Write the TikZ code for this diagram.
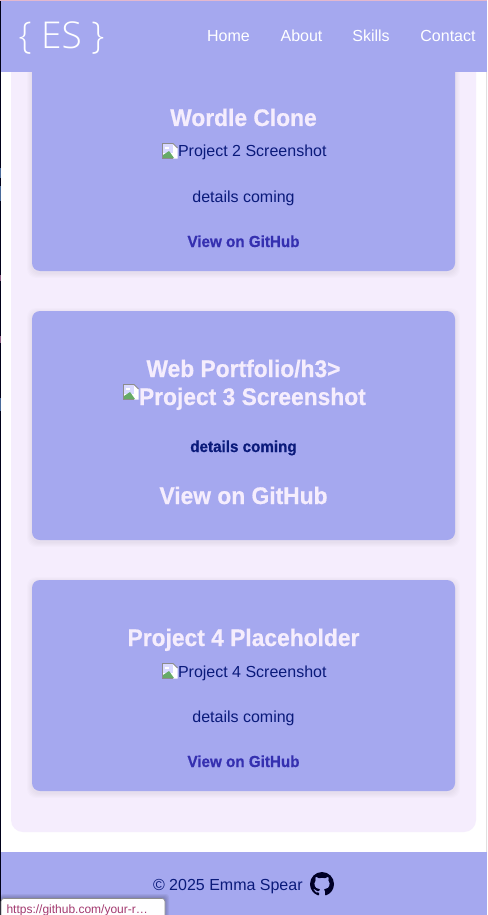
\documentclass[tikz,border=0pt]{standalone}
\usepackage{fontspec}
\setmainfont[BoldFeatures={FakeStretch=0.95,FakeBold=0.6}]{Liberation Sans}
\newfontfamily\lightfont{Open Sans Light}
\usetikzlibrary{svg.path}
\definecolor{periw}{HTML}{A5A8EF}
\definecolor{lav}{HTML}{F5EDFD}
\definecolor{navy}{HTML}{0A1A7A}
\definecolor{linkc}{HTML}{3530B0}
\definecolor{tipc}{HTML}{A3396F}
\definecolor{edgeblue}{HTML}{4A6A9A}
\definecolor{edgepink}{HTML}{8A5A80}
\tikzset{
  x=1pt,y=-1pt,
  every node/.style={inner sep=0pt,outer sep=0pt,anchor=base},
  card/.style={fill=periw,rounded corners=8pt},
  cardshadow/.style={fill=black,fill opacity=.01,rounded corners=9pt},
  navlink/.style={text=white,font=\fontsize{16}{16}\selectfont},
  title/.style={text=lav,font=\fontsize{24}{24}\selectfont\bfseries},
  alt/.style={text=navy,font=\fontsize{16}{16}\selectfont},
  linktxt/.style={text=linkc,font=\fontsize{16}{16}\selectfont\bfseries},
}
\newcommand{\softshadow}[4]{%
  \foreach \d in {1,2,3,4,5}{\fill[cardshadow] (#1-\d,#2-\d+2) rectangle (#3+\d,#4+\d+2);}}
\newcommand{\brokenicon}[2]{%
  \begin{scope}[shift={(#1,#2)}]
    \fill[white] (.5,.5) -- (11,.5) -- (15.5,5) -- (15.5,15.5) -- (.5,15.5) -- cycle;
    \fill[blue!15!white] (1,1) rectangle (11,10);
    \fill[green!45!black!60] (1,15) -- (1,12) -- (7,8) -- (12,15) -- cycle;
    \fill[white] (3,4) rectangle (7,5.5);
    \draw[black!45,line width=.8pt] (11,15.5) -- (.5,15.5) -- (.5,.5) -- (11,.5) -- (15.5,5);
  \end{scope}}
\begin{document}
\begin{tikzpicture}
\useasboundingbox (0,0) rectangle (487,915);
\fill[white] (0,0) rectangle (487,915);
% window edges
\fill[black!90!blue] (0,0) rectangle (1,915);
\fill[edgeblue] (0,168) rectangle (1,178);
\fill[edgeblue] (0,186) rectangle (1,201);
\fill[edgepink] (0,275) rectangle (1,281);
\fill[edgepink] (0,336) rectangle (1,343);
\fill[edgeblue] (0,398) rectangle (1,411);
\fill[black!12] (486,72) rectangle (487,852);
% panel
\fill[lav,rounded corners=12pt] (11,40) rectangle (476,832);
% cards
\softshadow{32}{30}{455}{271}
\softshadow{32}{311}{455}{540}
\softshadow{32}{580}{455}{791}
\fill[card] (32,30) rectangle (455,271);
\fill[card] (32,311) rectangle (455,540);
\fill[card] (32,580) rectangle (455,791);
% header
\fill[periw] (1,0) rectangle (487,72);
\fill[pink!70!periw] (0,0) rectangle (487,1);
\node[text=white,font=\lightfont\fontsize{37}{37}\selectfont] (logo) at (61.5,49) {\{ ES \}};
\node[navlink] (home) at (228.5,42) {Home};
\node[navlink] (about) at (301.5,42) {About};
\node[navlink] (skills) at (371,42) {Skills};
\node[navlink] (contact) at (448,42) {Contact};
% card 1
\node[title] (t1) at (243.5,126) {Wordle Clone};
\brokenicon{162}{143}
\node[alt,anchor=base west] (a1) at (178,157) {Project 2 Screenshot};
\node[alt] (d1) at (243.5,202) {details coming};
\node[linktxt] (l1) at (243.5,247) {View on GitHub};
% card 2
\node[title] (t2) at (243.5,377) {Web Portfolio/h3>};
\brokenicon{123}{384}
\node[title,anchor=base west] (a2) at (139,405) {Project 3 Screenshot};
\node[alt,font=\fontsize{16}{16}\selectfont\bfseries] (d2) at (243.5,452) {details coming};
\node[title] (l2) at (243.5,504) {View on GitHub};
% card 3
\node[title] (t3) at (243.5,646) {Project 4 Placeholder};
\brokenicon{162}{663}
\node[alt,anchor=base west] (a3) at (178,677) {Project 4 Screenshot};
\node[alt] (d3) at (243.5,722) {details coming};
\node[linktxt] (l3) at (243.5,767) {View on GitHub};
% footer
\fill[periw] (1,852) rectangle (487,915);
\node[alt,anchor=base west] (copy) at (153,890) {© 2025 Emma Spear};
\begin{scope}[shift={(310,872)},xscale=1.5,yscale=-1.5]
\fill[black!85!blue,even odd rule] (0,0) svg {M 8 0 C 3.58 0 0 3.58 0 8 c 0 3.54 2.29 6.53 5.47 7.59 .4 .07 .55 -.17 .55 -.38 0 -.19 -.01 -.82 -.01 -1.49 -2.01 .37 -2.53 -.49 -2.69 -.94 -.09 -.23 -.48 -.94 -.82 -1.13 -.28 -.15 -.68 -.52 -.01 -.53 .63 -.01 1.08 .58 1.23 .82 .72 1.21 1.87 .87 2.33 .66 .07 -.52 .28 -.87 .51 -1.07 -1.78 -.2 -3.64 -.89 -3.64 -3.95 0 -.87 .31 -1.59 .82 -2.15 -.08 -.2 -.36 -1.02 .08 -2.12 0 0 .67 -.21 2.2 .82 .64 -.18 1.32 -.27 2 -.27 .68 0 1.36 .09 2 .27 1.53 -1.04 2.2 -.82 2.2 -.82 .44 1.1 .16 1.92 .08 2.12 .51 .56 .82 1.27 .82 2.15 0 3.07 -1.87 3.75 -3.65 3.95 .29 .25 .54 .73 .54 1.48 0 1.07 -.01 1.93 -.01 2.2 0 .21 .15 .46 .55 .38 C 13.71 14.53 16 11.53 16 8 c 0 -4.42 -3.58 -8 -8 -8 z};
\end{scope}
% tooltip
\foreach \d in {1,2,3,4}{\fill[black,fill opacity=.05,rounded corners=3pt] (0,898-\d) rectangle (165+\d,925);}
\fill[white!96!lav,draw=black!45,line width=.6pt,rounded corners=3pt] (1,898.5) rectangle (165,925);
\node[text=tipc,anchor=base west,font=\fontsize{12}{12}\selectfont] (tip) at (6.5,913.5) {https://github.com/your-r…};
\end{tikzpicture}
\end{document}
